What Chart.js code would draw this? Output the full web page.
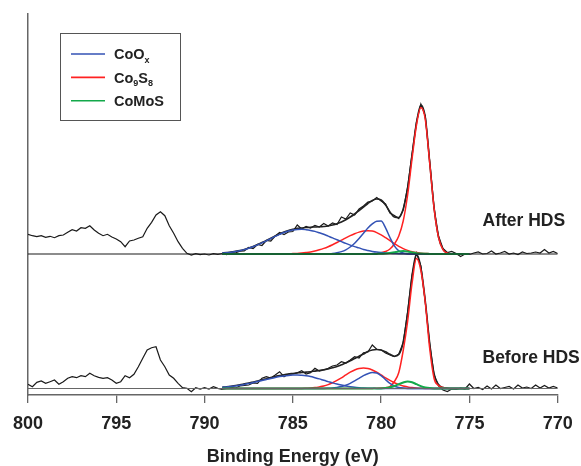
<!DOCTYPE html>
<html><head><meta charset="utf-8">
<script src="https://cdn.jsdelivr.net/npm/chart.js@4.4.1/dist/chart.umd.min.js"></script>
<style>html,body{margin:0;padding:0;background:#fff}</style>
</head><body>
<canvas id="c" width="581" height="466"></canvas>
<script>
// ---- Data (Binding energy in eV, intensity in arbitrary units, spectra stacked) ----
const rawE = [800,799.75,799.5,799.25,799,798.75,798.5,798.25,798,797.75,797.5,797.25,797,796.75,796.5,796.25,796,795.75,795.5,795.25,795,794.75,794.5,794.25,794,793.75,793.5,793.25,793,792.75,792.5,792.25,792,791.75,791.5,791.25,791,790.75,790.5,790.25,790,789.75,789.5,789.25,789,788.75,788.5,788.25,788,787.75,787.5,787.25,787,786.75,786.5,786.25,786,785.75,785.5,785.25,785,784.75,784.5,784.25,784,783.75,783.5,783.25,783,782.75,782.5,782.25,782,781.75,781.5,781.25,781,780.75,780.5,780.25,780,779.75,779.5,779.25,779,778.75,778.5,778.25,778,777.75,777.5,777.25,777,776.75,776.5,776.25,776,775.75,775.5,775.25,775,774.75,774.5,774.25,774,773.75,773.5,773.25,773,772.75,772.5,772.25,772,771.75,771.5,771.25,771,770.75,770.5,770.25,770];

const rawAfter = [158.7,157.3,156.3,157.3,155.7,156.7,155.3,157.3,158,160.7,163.3,162,165.3,164.7,167.3,163,159.7,157.3,158.7,156,154,151.3,146.3,152,153,154.7,156.3,164.7,170.7,178,181.3,177.3,167.3,159.7,151.3,144.7,139.7,138,139.3,138.3,139,138,139.3,138.7,139.5,
138.5,140.5,140,141.8,142,145.5,144.5,148.5,147.5,152.5,152,157,160.5,158.5,161,161.5,168,164,166.5,165,167.5,166,169.5,167,170,168.5,176,174,180,178,184,187,191,192,195.5,192,189,180,177.5,174.5,183,206,239,271,289,277,232,185,157,144.5,140.5,141.5,139.5,136.5,139,138.5,
140,141,139,139.5,142,139,140,141.5,139,140,138.5,141,139.5,140,141,140,143.5,140,141.5,139.5];

const rawBefore = [8.7,6.3,10.7,12,9.7,11.3,13,8.7,11.3,14.7,16.3,15.3,17.3,16.3,19.7,17.3,15.7,14.7,15.3,13,9.7,11.3,17.3,15.3,18.7,26.3,34.7,43,45.3,46.3,33,26.3,18,14.7,9.7,5.3,4.7,1.3,5.3,4,5.3,4,6.3,4.7,3.7,
4.5,5.7,5,7,7.5,8,10,9.7,14.7,16.3,15,18,21.3,16.3,19,19,20.3,22.3,19,20.3,24.7,22,23,24.7,27,28,31.3,30,33,36.3,35,40.3,41,48,43.7,43,40,38,36.3,39,50,81,118,140,127,91,49,18,7,3,1.5,4,3.5,5,4,9,
4.5,5.5,3.5,7,4,8,4.5,5.5,6.5,4,8,5,6,4.5,8,5,7.5,5,6.5,5];

const fitE = [789,788.75,788.5,788.25,788,787.75,787.5,787.25,787,786.75,786.5,786.25,786,785.75,785.5,785.25,785,784.75,784.5,784.25,784,783.75,783.5,783.25,783,782.75,782.5,782.25,782,781.75,781.5,781.25,781,780.75,780.5,780.25,780,779.75,779.5,779.25,779,778.75,778.5,778.25,778,777.75,777.5,777.25,777,776.75,776.5,776.25,776,775.75,775.5,775.25,775];

// After HDS fit
const envAfter = [140,140.4,141,141.6,142.4,143.6,145,146.6,148.4,150.4,152.5,154.8,157,159,161,162.5,163.6,164.6,165,165.5,165.8,166,166.2,166.5,167,168,169.3,171,173.3,176,179,182.5,186,189.5,192.5,194,193,188,181,176,175.5,184,205,238,270,288,276,231,185,156,144,140,139.2,139,139,139,139];
const coOxAfterA = [139.9,140.3,140.8,141.5,142.3,143.4,144.8,146.3,148.1,150.1,152.2,154.4,156.6,158.6,160.5,162,163,163.6,163.7,163.3,162.6,161.6,160.2,158.7,156.9,155.1,153.2,151.4,149.6,147.9,146.4,145.1,143.5,142.5,141.6,140.9,140.4,140,139.7,139.5,139.3,139.2,139.1,139,139,139,139,139,139,139,139,139,139,139,139,139,139];
const coOxAfterB = [139,139,139,139,139,139,139,139,139,139,139,139,139,139,139,139,139,139,139,139,139,139,139,139.1,139.3,139.6,140.3,141.4,143.2,146,149.8,154.6,159.8,165,169.1,171.8,172,165.1,155.5,147.2,142.2,140,139.2,139,139,139,139,139,139,139,139,139,139,139,139,139,139];
const co9s8AfterA = [139,139,139,139,139,139,139,139,139,139,139,139,139,139,139.1,139.2,139.4,139.6,140,140.5,141.1,142,143.2,144.6,146.3,148.3,150.5,152.8,155.2,157.4,159.3,160.9,161.9,162.3,161.9,160.4,158.1,155.3,152.3,149.3,146.6,144.4,142.6,141.3,140.4,139.8,139.5,139.2,139.1,139,139,139,139,139,139,139,139];
const co9s8AfterB = [139,139,139,139,139,139,139,139,139,139,139,139,139,139,139,139,139,139,139,139,139,139,139,139,139,139,139,139,139,139,139,139,139,139,139.2,139.5,140.2,141.5,144,149,157,172,198,234,267.6,285.5,273.5,230,184.4,155.6,143.4,139.9,139.1,139,139,139,139];
const comosAfter = [139,139,139,139,139,139,139,139,139,139,139,139,139,139,139,139,139,139,139,139,139,139,139,139,139,139,139,139,139,139,139,139,139,139,139,139.1,139.2,139.5,140,140.8,141.6,142,141.5,140.6,139.8,139.4,139.2,139.1,139,139,139,139,139,139,139,139,139];

// Before HDS fit
const envBefore = [5.7,6.2,6.8,7.5,8.2,9.1,10,11,12,13.2,14.3,15.4,16.5,17.4,18.3,19,19.5,20,20.5,20.9,21.3,21.9,22.5,23.2,24,25.2,26.5,28.2,30,32.2,34.5,36.8,39,41.5,43,43.5,43,41.2,38.8,36.8,38.5,51,80,117,139,125.5,92,50,19,8.5,5.5,4.8,4.5,4.5,4.5,4.5,4.5];
const coOxBeforeA = [5.7,6.1,6.5,7.1,7.8,8.5,9.4,10.4,11.4,12.5,13.5,14.6,15.6,16.4,17.1,17.6,17.9,18,17.7,17.2,16.4,15.3,14.1,12.7,11.4,10.1,8.9,7.9,7,6.3,5.7,5.3,5,4.8,4.7,4.6,4.5,4.5,4.5,4.5,4.5,4.5,4.5,4.5,4.5,4.5,4.5,4.5,4.5,4.5,4.5,4.5,4.5,4.5,4.5,4.5,4.5];
const coOxBeforeB = [4.5,4.5,4.5,4.5,4.5,4.5,4.5,4.5,4.5,4.5,4.5,4.5,4.5,4.5,4.5,4.5,4.5,4.5,4.5,4.5,4.5,4.5,4.5,4.5,4.7,5,5.6,6.4,7.8,9.7,12.1,14.7,17.3,19.3,20.4,20,17.3,13.4,9.7,7,5.6,4.9,4.6,4.5,4.5,4.5,4.5,4.5,4.5,4.5,4.5,4.5,4.5,4.5,4.5,4.5,4.5];
const co9s8BeforeA = [4.5,4.5,4.5,4.5,4.5,4.5,4.5,4.5,4.5,4.5,4.5,4.5,4.5,4.5,4.5,4.5,4.5,4.5,4.6,4.8,5,5.4,6.1,7,8.4,10.3,12.6,15.2,18.1,20.8,23,24.5,25,24.5,23,20.8,18.1,15.2,12.6,10.3,8.4,7,6.1,5.4,5,4.8,4.6,4.5,4.5,4.5,4.5,4.5,4.5,4.5,4.5,4.5,4.5];
const co9s8BeforeB = [4.5,4.5,4.5,4.5,4.5,4.5,4.5,4.5,4.5,4.5,4.5,4.5,4.5,4.5,4.5,4.5,4.5,4.5,4.5,4.5,4.5,4.5,4.5,4.5,4.5,4.5,4.5,4.5,4.5,4.5,4.5,4.5,4.5,4.5,4.6,4.7,4.9,5.3,6.5,11.5,20.5,42.5,71.5,109.5,134.5,122.5,90.5,44.5,14.5,7.5,5.5,4.8,4.5,4.5,4.5,4.5,4.5];
const comosBefore = [4.5,4.5,4.5,4.5,4.5,4.5,4.5,4.5,4.5,4.5,4.5,4.5,4.5,4.5,4.5,4.5,4.5,4.5,4.5,4.5,4.5,4.5,4.5,4.5,4.5,4.5,4.5,4.5,4.5,4.5,4.5,4.5,4.5,4.5,4.5,4.5,4.5,4.9,5.7,7,8.8,10.5,11.5,10.7,8.8,6.9,5.6,4.9,4.6,4.5,4.5,4.5,4.5,4.5,4.5,4.5,4.5];

// Flat background lines for each stacked spectrum
const baseE = [800, 770];
const baseAfter = [139, 139];
const baseBefore = [4.5, 4.5];

const xTicks = [800, 795, 790, 785, 780, 775, 770];
const legendNames = ['CoO_x', 'Co_9S_8', 'CoMoS'];
const spectrumLabels = ['After HDS', 'Before HDS'];
const xTitle = 'Binding Energy (eV)';

// ---- checks ----
[['rawAfter',rawAfter,rawE],['rawBefore',rawBefore,rawE],['envAfter',envAfter,fitE],['coOxAfterA',coOxAfterA,fitE],['coOxAfterB',coOxAfterB,fitE],['co9s8AfterA',co9s8AfterA,fitE],['co9s8AfterB',co9s8AfterB,fitE],['comosAfter',comosAfter,fitE],['envBefore',envBefore,fitE],['coOxBeforeA',coOxBeforeA,fitE],['coOxBeforeB',coOxBeforeB,fitE],['co9s8BeforeA',co9s8BeforeA,fitE],['co9s8BeforeB',co9s8BeforeB,fitE],['comosBefore',comosBefore,fitE]].forEach(([n,a,e])=>{ if(a.length!==e.length) throw new Error(n+' length '+a.length+' vs '+e.length); });

const BLUE = '#3352b5', RED = '#ff2222', GREEN = '#13a84a', BLACK = '#1a1a1a';
const FONT = '"Liberation Sans", Arial, Helvetica, sans-serif';

const pts = (xs, ys) => xs.map((x, i) => ({x: x, y: ys[i]}));
const line = (data, color, width, smooth) => ({
  data: data, borderColor: color, borderWidth: width, pointRadius: 0, fill: false,
  cubicInterpolationMode: smooth ? 'monotone' : 'default', tension: 0
});

const datasets = [
  line(pts(baseE, baseAfter), BLACK, 1.2, false),
  line(pts(baseE, baseBefore), '#666', 1.2, false),
  line(pts(fitE, comosAfter), GREEN, 2, true),
  line(pts(fitE, coOxAfterA), BLUE, 1.5, true),
  line(pts(fitE, coOxAfterB), BLUE, 1.5, true),
  line(pts(fitE, co9s8AfterA), RED, 1.5, true),
  line(pts(fitE, co9s8AfterB), RED, 1.5, true),
  line(pts(fitE, comosBefore), GREEN, 2, true),
  line(pts(fitE, coOxBeforeA), BLUE, 1.5, true),
  line(pts(fitE, coOxBeforeB), BLUE, 1.5, true),
  line(pts(fitE, co9s8BeforeA), RED, 1.5, true),
  line(pts(fitE, co9s8BeforeB), RED, 1.5, true),
  line(pts(fitE, envAfter), '#222', 1.6, true),
  line(pts(fitE, envBefore), '#222', 1.6, true),
  line(pts(rawE, rawAfter), BLACK, 1.2, false),
  line(pts(rawE, rawBefore), BLACK, 1.2, false)
];

const overlay = {
  id: 'overlay',
  afterDraw(chart) {
    const ctx = chart.ctx;
    ctx.save();
    // legend box
    ctx.strokeStyle = '#555'; ctx.lineWidth = 1;
    ctx.strokeRect(60.5, 33.5, 120, 87);
    const colors = [BLUE, RED, GREEN];
    legendNames.forEach((name, i) => {
      const y = 54 + i * 23.4;
      ctx.strokeStyle = colors[i]; ctx.lineWidth = 1.6;
      ctx.beginPath(); ctx.moveTo(71, y); ctx.lineTo(105, y); ctx.stroke();
      let x = 114;
      ctx.fillStyle = '#222'; ctx.textBaseline = 'alphabetic'; ctx.textAlign = 'left';
      for (let k = 0; k < name.length; k++) {
        let ch = name[k], sub = false;
        if (ch === '_') { sub = true; k++; ch = name[k]; }
        ctx.font = sub ? 'bold 9px ' + FONT : 'bold 14.5px ' + FONT;
        ctx.fillText(ch, x, y + (sub ? 8.5 : 5.2));
        x += ctx.measureText(ch).width;
      }
    });
    // spectrum labels
    ctx.font = 'bold 17.5px ' + FONT;
    ctx.fillStyle = '#222'; ctx.textBaseline = 'middle';
    ctx.fillText(spectrumLabels[0], 482.5, 221);
    ctx.fillText(spectrumLabels[1], 482.5, 358.5);
    ctx.restore();
  }
};

new Chart(document.getElementById('c'), {
  type: 'line',
  data: { datasets: datasets },
  options: {
    responsive: false, animation: false, devicePixelRatio: 1,
    layout: { padding: { left: 28, right: 23.3, top: 14, bottom: 0 } },
    plugins: { legend: { display: false }, tooltip: { enabled: false } },
    scales: {
      x: {
        type: 'linear', reverse: true, min: 770, max: 800,
        afterFit: s => { s.height = 71; s.paddingLeft = 0; s.paddingRight = 0; },
        afterBuildTicks: s => { s.ticks = xTicks.map(v => ({ value: v })); },
        ticks: { color: '#222', font: { family: FONT, size: 18, weight: 'bold' }, padding: 10.5, maxRotation: 0 },
        grid: { drawOnChartArea: false, drawTicks: true, tickLength: 8, color: '#666', lineWidth: 1.3 },
        border: { display: true, color: '#666', width: 1.5 },
        title: { display: true, text: xTitle, color: '#222', font: { family: FONT, size: 18, weight: 'bold', lineHeight: 1.0 }, padding: { top: 0, bottom: 0 } }
      },
      y: {
        type: 'linear', min: -2, max: 379,
        afterFit: s => { s.width = 0; },
        ticks: { display: false },
        grid: { drawOnChartArea: false, drawTicks: false },
        border: { display: true, color: '#666', width: 1.5 }
      }
    }
  },
  plugins: [overlay]
});
</script>
</body></html>
